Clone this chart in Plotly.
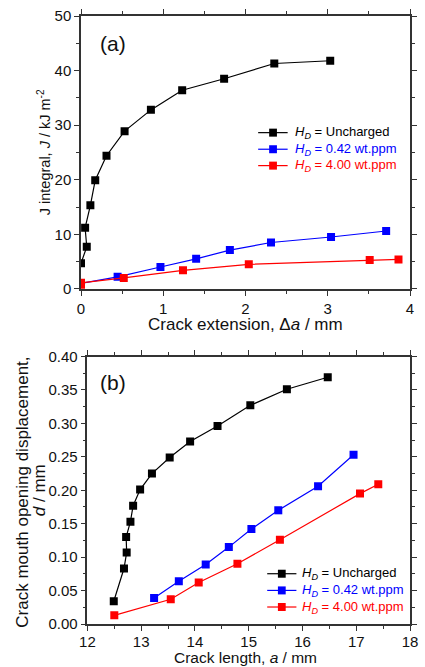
import plotly.graph_objects as go

# (a) J-integral resistance curves
dA_unch = [0.0, 0.07, 0.05, 0.114, 0.173, 0.31, 0.53, 0.85, 1.23, 1.74, 2.35, 3.03]
J_unch = [4.7, 7.7, 11.2, 15.3, 19.9, 24.4, 28.9, 32.8, 36.4, 38.5, 41.3, 41.8]

dA_042 = [0.0, 0.445, 0.966, 1.40, 1.81, 2.31, 3.04, 3.71]
J_042 = [1.0, 2.2, 4.0, 5.5, 7.1, 8.5, 9.5, 10.6]

dA_400 = [0.0, 0.0, 0.52, 1.24, 2.04, 3.51, 3.86]
J_400 = [0.4, 1.1, 2.0, 3.4, 4.5, 5.3, 5.4]

# (b) crack mouth opening displacement vs crack length
a_unch = [12.49, 12.68, 12.73, 12.72, 12.80, 12.85, 12.98, 13.20, 13.53, 13.91,
          14.42, 15.03, 15.71, 16.47]
d_unch = [0.034, 0.083, 0.107, 0.130, 0.153, 0.177, 0.201, 0.225, 0.249, 0.273,
          0.296, 0.327, 0.351, 0.369]

a_042 = [13.24, 13.70, 14.20, 14.63, 15.05, 15.55, 16.29, 16.95]
d_042 = [0.039, 0.064, 0.089, 0.115, 0.142, 0.170, 0.206, 0.253]

a_400 = [12.50, 13.55, 14.07, 14.79, 15.58, 17.07, 17.41]
d_400 = [0.013, 0.037, 0.062, 0.090, 0.126, 0.195, 0.209]

labels = ["Uncharged", "0.42 wt.ppm", "4.00 wt.ppm"]
colors = ["#000000", "#0000ff", "#ff0000"]

FONT = "Liberation Sans, Arial, sans-serif"
W, H = 425, 667
ML, MR, MT, MB = 80.7, 6.3, 16, 42.7
PW, PH = W - ML - MR, H - MT - MB


def px_x(px):
    return (px - ML) / PW


def px_y(py):
    return (H - MB - py) / PH


def legend_text(label):
    return f"<i>H</i><sub><i>D</i></sub> = {label}"


fig = go.Figure()

series_a = [(dA_unch, J_unch), (dA_042, J_042), (dA_400, J_400)]
series_b = [(a_unch, d_unch), (a_042, d_042), (a_400, d_400)]

for (x, y), lab, col in zip(series_a, labels, colors):
    fig.add_trace(go.Scatter(
        x=x, y=y, mode="lines+markers", name=lab, showlegend=False,
        line=dict(color=col, width=1.2),
        marker=dict(symbol="square", size=8, color=col),
        xaxis="x", yaxis="y"))

for (x, y), lab, col in zip(series_b, labels, colors):
    fig.add_trace(go.Scatter(
        x=x, y=y, mode="lines+markers", name=lab, showlegend=False,
        line=dict(color=col, width=1.2),
        marker=dict(symbol="square", size=8, color=col),
        xaxis="x2", yaxis="y2"))

AX = dict(showline=True, linecolor="#333333", linewidth=1.5, mirror="ticks",
          ticks="outside", ticklen=5, tickwidth=1.2, tickcolor="#333333",
          showgrid=False, zeroline=False,
          tickfont=dict(family=FONT, size=15, color="#111111"),
          minor=dict(ticks="outside", ticklen=3, tickwidth=1.2,
                     tickcolor="#333333", showgrid=False))

fig.update_layout(
    width=W, height=H,
    margin=dict(l=ML, r=MR, t=MT, b=MB),
    paper_bgcolor="white", plot_bgcolor="white",
    font=dict(family=FONT, color="#111111"),
    showlegend=False,
    xaxis=dict(AX, domain=[0, 1], range=[0, 4], dtick=1,
               minor=dict(AX["minor"], dtick=0.5), anchor="y"),
    yaxis=dict(AX, domain=[px_y(289), 1], range=[0, 50], dtick=10,
               minor=dict(AX["minor"], dtick=5), anchor="x"),
    xaxis2=dict(AX, domain=[px_x(87.3), 1], range=[12, 18], dtick=1,
                minor=dict(AX["minor"], dtick=0.5), anchor="y2",
                ticklabelstandoff=-2),
    yaxis2=dict(AX, domain=[0, px_y(356.7)], range=[0, 0.40], dtick=0.05,
                tickformat=".2f", minor=dict(AX["minor"], dtick=0.025),
                anchor="x2"),
)

# Legend boxes: one row per hydrogen content, drawn in each panel
legend_layouts = [
    dict(x0=262.7, x1=293.0, xm=278.0, xt=298.0, rows=[132.7, 149.3, 165.7]),
    dict(x0=272.0, x1=302.0, xm=287.0, xt=306.0, rows=[574.0, 590.7, 607.3]),
]
for lg in legend_layouts:
    for lab, col, ry in zip(labels, colors, lg["rows"]):
        fig.add_shape(type="line", xref="paper", yref="paper",
                      x0=px_x(lg["x0"]), x1=px_x(lg["x1"]),
                      y0=px_y(ry), y1=px_y(ry),
                      line=dict(color=col, width=1.2))
        fig.add_shape(type="rect", xref="paper", yref="paper",
                      x0=px_x(lg["xm"] - 4), x1=px_x(lg["xm"] + 4),
                      y0=px_y(ry + 4), y1=px_y(ry - 4),
                      fillcolor=col, line=dict(width=0))
        fig.add_annotation(xref="paper", yref="paper",
                           x=px_x(lg["xt"]), y=px_y(ry),
                           xanchor="left", yanchor="middle", showarrow=False,
                           text=legend_text(lab),
                           font=dict(family=FONT, size=13, color=col))

annotations = [
    dict(text="(a)", x=114, y=44, size=21, angle=0),
    dict(text="(b)", x=114, y=383, size=21, angle=0),
    dict(text="J integral, <i>J</i> / kJ m<sup>-2</sup>", x=43, y=152,
         size=14.5, angle=-90),
    dict(text="Crack extension, \u0394<i>a</i> / mm", x=250, y=325,
         size=17, angle=0),
    dict(text="Crack mouth opening displacement,", x=21, y=492,
         size=17, angle=-90),
    dict(text="<i>d</i> / mm", x=38, y=490, size=17, angle=-90),
    dict(text="Crack length, <i>a</i> / mm", x=250, y=657.5, size=15.5, angle=0),
]
for ann in annotations:
    fig.add_annotation(
        xref="paper", yref="paper",
        x=px_x(ann["x"]), y=px_y(ann["y"]),
        xanchor="center", yanchor="middle", showarrow=False,
        font=dict(family=FONT, color="#111111", size=ann["size"]),
        text=ann["text"], textangle=ann["angle"])

fig.write_html("out.html")
